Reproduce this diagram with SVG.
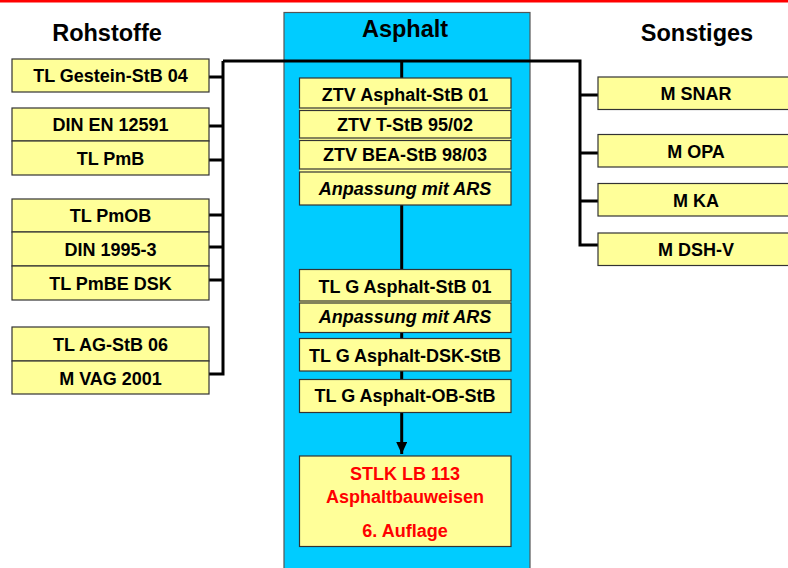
<svg xmlns="http://www.w3.org/2000/svg" width="788" height="568" viewBox="0 0 788 568">
<style>
.box{fill:#FFFF99;stroke:#333;stroke-width:1.2}
.t{font-family:"Liberation Sans",Arial,sans-serif;font-weight:bold;font-size:18px;fill:#000;text-anchor:middle}
.it{font-style:italic}
.red{fill:#FF0000}
.title{font-size:23.5px}
.ln{stroke:#000;stroke-width:3;fill:none}
</style>
<defs>
<marker id="ah" markerWidth="12" markerHeight="11" refX="12" refY="5.5" orient="auto" markerUnits="userSpaceOnUse" viewBox="0 0 12 11">
<path d="M0,0 L12,5.5 L0,11 Z" fill="#000"/>
</marker>
</defs>
<rect x="0" y="0" width="788" height="2.5" fill="#FF0000"/>
<rect id="asphalt-panel" x="284" y="12.5" width="246" height="570" fill="#00CCFF" stroke="#555" stroke-width="1.2"/>
<text class="t title" x="107" y="41">Rohstoffe</text>
<text class="t title" x="405" y="37">Asphalt</text>
<text class="t title" x="697" y="41">Sonstiges</text>

<g id="connectors">
<path class="ln" d="M223,61 L580,61 L580,245 L598,245"/>
<path class="ln" d="M223,61 L223,374 L209,374"/>
<path class="ln" d="M209,77 H223 M209,126 H223 M209,160 H223 M209,215 H223 M209,247 H223 M209,280 H223"/>
<path class="ln" d="M580,95 H598 M580,153 H598 M580,201 H598"/>
<path class="ln" d="M401.7,61 V78 M401.7,205 V269 M401.7,332 V338 M401.7,371 V379"/>
<path class="ln" d="M401.7,412 V454" marker-end="url(#ah)"/>
</g>

<g id="l1"><rect class="box" x="12" y="59" width="197" height="33"/><text class="t" x="110.5" y="82">TL Gestein-StB 04</text></g>
<g id="l2"><rect class="box" x="12" y="108" width="197" height="33"/><text class="t" x="110.5" y="131">DIN EN 12591</text></g>
<g id="l3"><rect class="box" x="12" y="141" width="197" height="34"/><text class="t" x="110.5" y="165">TL PmB</text></g>
<g id="l4"><rect class="box" x="12" y="199" width="197" height="33"/><text class="t" x="110.5" y="222">TL PmOB</text></g>
<g id="l5"><rect class="box" x="12" y="232" width="197" height="34"/><text class="t" x="110.5" y="256">DIN 1995-3</text></g>
<g id="l6"><rect class="box" x="12" y="266" width="197" height="34"/><text class="t" x="110.5" y="290">TL PmBE DSK</text></g>
<g id="l7"><rect class="box" x="12" y="327" width="197" height="34"/><text class="t" x="110.5" y="351">TL AG-StB 06</text></g>
<g id="l8"><rect class="box" x="12" y="361" width="197" height="33"/><text class="t" x="110.5" y="385">M VAG 2001</text></g>

<g id="r1"><rect class="box" x="598" y="77" width="196" height="32.5"/><text class="t" x="696" y="100">M SNAR</text></g>
<g id="r2"><rect class="box" x="598" y="134.5" width="196" height="32.5"/><text class="t" x="696" y="158">M OPA</text></g>
<g id="r3"><rect class="box" x="598" y="183.5" width="196" height="32.5"/><text class="t" x="696" y="207">M KA</text></g>
<g id="r4"><rect class="box" x="598" y="233" width="196" height="32.5"/><text class="t" x="696" y="256">M DSH-V</text></g>

<g id="c-ztv">
<rect x="299.5" y="78" width="211.5" height="127" fill="#FFFF99"/>
<rect class="box" x="299.5" y="78" width="211.5" height="30"/><text class="t" x="405" y="101">ZTV Asphalt-StB 01</text>
<rect class="box" x="299.5" y="110.5" width="211.5" height="27.5"/><text class="t" x="405" y="131">ZTV T-StB 95/02</text>
<rect class="box" x="299.5" y="140.5" width="211.5" height="28.5"/><text class="t" x="405" y="161">ZTV BEA-StB 98/03</text>
<rect class="box" x="299.5" y="172" width="211.5" height="33"/><text class="t it" x="405" y="195">Anpassung mit ARS</text>
</g>
<g id="c-tlg">
<rect x="299.5" y="269.5" width="211.5" height="63" fill="#FFFF99"/>
<rect class="box" x="299.5" y="269.5" width="211.5" height="31.5"/><text class="t" x="405" y="293">TL G Asphalt-StB 01</text>
<rect class="box" x="299.5" y="303" width="211.5" height="29.5"/><text class="t it" x="405" y="323">Anpassung mit ARS</text>
</g>
<g id="c-dsk"><rect class="box" x="299.5" y="338.5" width="211.5" height="32.5"/><text class="t" x="405" y="361.5">TL G Asphalt-DSK-StB</text></g>
<g id="c-ob"><rect class="box" x="299.5" y="379.5" width="211.5" height="33"/><text class="t" x="405" y="402">TL G Asphalt-OB-StB</text></g>
<g id="c-stlk"><rect class="box" x="299.5" y="456" width="211.5" height="90.5"/>
<text class="t red" x="405" y="480">STLK LB 113</text>
<text class="t red" x="405" y="502.5">Asphaltbauweisen</text>
<text class="t red" x="405" y="536.5">6. Auflage</text>
</g>
</svg>
